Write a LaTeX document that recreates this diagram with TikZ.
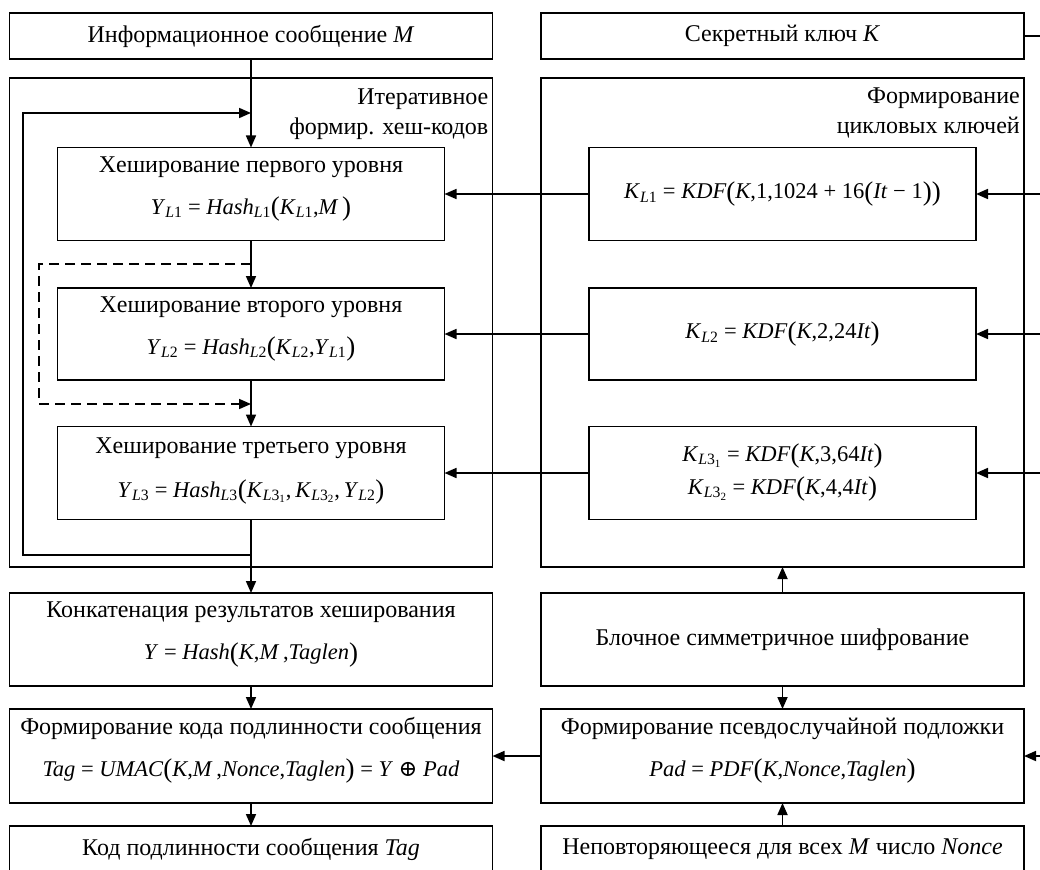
\documentclass[tikz,border=0pt]{standalone}
\usepackage{fontspec}
\setmainfont{Liberation Serif}
\newfontfamily\djv{DejaVu Serif}
\usetikzlibrary{arrows.meta}
\newcommand\vi[1]{\textit{#1}}
\newcommand\Ls[1]{\textsubscript{\textit{L}#1}}
\newcommand\fm{\fontsize{22.5}{26}\selectfont}
\newcommand\lp{\raisebox{-1.5pt}{\fontsize{27}{27}\selectfont(}}
\newcommand\rp{\raisebox{-1.5pt}{\fontsize{27}{27}\selectfont)}}
\tikzset{
  ln/.style={line width=1.7pt},
  wide/.style={draw, ln, minimum width=483pt, inner sep=0pt, outer sep=0pt},
  narrow/.style={draw, ln, minimum width=387pt, inner sep=0pt, outer sep=0pt},
  txt/.style={font=\fontsize{24}{28}\selectfont, align=center, inner sep=0pt},
  arr/.style={ln, -{Triangle[length=12pt,width=10pt]}},
  dsh/.style={dash pattern=on 10pt off 6pt}
}
\begin{document}
\begin{tikzpicture}[x=1pt,y=-1pt]
\useasboundingbox (0,0) rectangle (1040,869);
\clip (0,0) rectangle (1040,869);
% top
\node[wide, minimum height=46pt, txt] (msg) at (251,36) {Информационное сообщение \vi{M}};
\node[wide, minimum height=46pt, txt] (key) at (782.5,36) {Секретный ключ \vi{K}};
% frames
\node[wide, minimum height=489pt] (fr1) at (251,322.5) {};
\node[wide, minimum height=489pt] (fr2) at (782.5,322.5) {};
\node[txt, font=\fontsize{24}{30}\selectfont, align=right, anchor=north east] (fr1l) at ([xshift=-4pt,yshift=-11pt]fr1.north east) {Итеративное\\формир. хеш-кодов};
\node[txt, font=\fontsize{24}{30}\selectfont, align=right, anchor=north east] (fr2l) at ([xshift=-4pt,yshift=-10pt]fr2.north east) {Формирование\\цикловых ключей};
% hash boxes
\node[narrow, minimum height=93pt] (h1) at (251,194) {};
\node[txt] (h1t) at (251,189) {Хеширование первого уровня\\[14pt]{\fm\vi{Y}\Ls{1} = \vi{Hash}\Ls{1}\lp\vi{K}\Ls{1},\vi{M}\,\rp}};
\node[narrow, minimum height=92pt] (h2) at (251,334) {};
\node[txt] (h2t) at (251,329) {Хеширование второго уровня\\[14pt]{\fm\vi{Y}\Ls{2} = \vi{Hash}\Ls{2}\lp\vi{K}\Ls{2},\vi{Y}\Ls{1}\rp}};
\node[narrow, minimum height=93pt] (h3) at (251,473) {};
\node[txt] (h3t) at (251,471) {Хеширование третьего уровня\\[16pt]{\fm\vi{Y}\Ls{3} = \vi{Hash}\Ls{3}\lp\vi{K}\Ls{3\textsubscript{1}},\,\vi{K}\Ls{3\textsubscript{2}},\,\vi{Y}\Ls{2}\rp}};
% key boxes
\node[narrow, minimum height=93pt, txt, font=\fm] (kl1) at (782.5,194) {\vi{K}\Ls{1} = \vi{KDF}\lp\vi{K},1,1024 + 16\lp\vi{It} − 1\rp\rp};
\node[narrow, minimum height=92pt, txt, font=\fm] (kl2) at (782.5,334) {\vi{K}\Ls{2} = \vi{KDF}\lp\vi{K},2,24\vi{It}\rp};
\node[narrow, minimum height=93pt, txt, font=\fontsize{22.5}{33}\selectfont] (kl3) at (782.5,473) {\vi{K}\Ls{3\textsubscript{1}} = \vi{KDF}\lp\vi{K},3,64\vi{It}\rp\\\vi{K}\Ls{3\textsubscript{2}} = \vi{KDF}\lp\vi{K},4,4\vi{It}\rp};
% lower boxes
\node[wide, minimum height=93pt] (cat) at (251,639.5) {};
\node[txt] (catt) at (251,634.5) {Конкатенация результатов хеширования\\[14pt]{\fm\vi{Y} = \vi{Hash}\lp\vi{K},\vi{M}\,,\vi{Taglen}\rp}};
\node[wide, minimum height=93pt, txt] (blk) at (782.5,639.5) {Блочное симметричное шифрование};
\node[wide, minimum height=94pt] (tag) at (251,756) {};
\node[txt] (tagt) at (251,750.5) {Формирование кода подлинности сообщения\\[14pt]{\fm\vi{Tag} = \vi{UMAC}\lp\vi{K},\vi{M}\,,\vi{Nonce},\vi{Taglen}\rp{} = \vi{Y} {\djv ⊕} \vi{Pad}}};
\node[wide, minimum height=94pt] (pad) at (782.5,756) {};
\node[txt] (padt) at (782.5,750.5) {Формирование псевдослучайной подложки\\[14pt]{\fm\vi{Pad} = \vi{PDF}\lp\vi{K},\vi{Nonce},\vi{Taglen}\rp}};
\node[wide, minimum height=46pt, txt] (fin) at (251,849) {Код подлинности сообщения \vi{Tag}};
\node[wide, minimum height=46pt, txt] (non) at (782.5,849) {Неповторяющееся для всех \vi{M} число \vi{Nonce}};
% coordinates
\coordinate (lpR) at (251,555);
\coordinate (lpBL) at (23,555);
\coordinate (lpTL) at (23,113);
\coordinate (lpT) at (251,113);
\coordinate (dA) at (251,264);
\coordinate (dB) at (39,264);
\coordinate (dC) at (39,404);
\coordinate (dD) at (251,404);
\coordinate (bus0) at (1046,36);
\coordinate (bus1) at (1046,757);
% connectors
\draw[arr] (msg.south) -- (h1.north);
\draw[arr] (h1.south) -- (h2.north);
\draw[arr] (h2.south) -- (h3.north);
\draw[arr] (h3.south) -- (cat.north);
\draw[arr] (lpR) -- (lpBL) -- (lpTL) -- (lpT);
\draw[arr, dsh] (dA) -- (dB) -- (dC) -- (dD);
\draw[arr] (kl1.west) -- (h1.east);
\draw[arr] (kl2.west) -- (h2.east);
\draw[arr] (kl3.west) -- (h3.east);
\draw[ln] (key.east) -- (bus0) -- (bus1);
\draw[arr] (bus0 |- kl1) -- (kl1.east);
\draw[arr] (bus0 |- kl2) -- (kl2.east);
\draw[arr] (bus0 |- kl3) -- (kl3.east);
\draw[arr] (bus0 |- pad) -- (pad.east);
\draw[arr] (blk.north) -- (fr2.south);
\draw[arr] (blk.south) -- (pad.north);
\draw[arr] (non.north) -- (pad.south);
\draw[arr] (pad.west) -- (tag.east);
\draw[arr] (cat.south) -- (tag.north);
\draw[arr] (tag.south) -- (fin.north);
\end{tikzpicture}
\end{document}
